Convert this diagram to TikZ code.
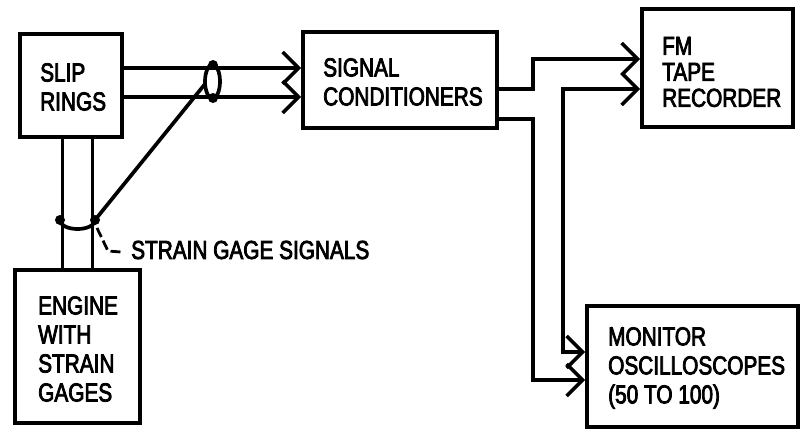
\documentclass[tikz,border=0pt]{standalone}
\usepackage{fontspec}
\setmainfont{Liberation Sans}[FakeStretch=0.8, FakeBold=3]
\usetikzlibrary{arrows.meta}
\tikzset{
  box/.style={draw, line width=4pt, inner sep=0pt},
  lbl/.style={anchor=west, align=left, inner sep=0pt, font=\fontsize{26}{29}\selectfont},
  wire/.style={line width=3.7pt},
  tip/.tip={Straight Barb[length=16pt,width=32pt,line width=3.5pt]},
  arr/.style={wire, -tip},
  arrboth/.style={wire, tip-tip},
  blob/.style={fill, circle, inner sep=0pt, minimum size=10pt},
}
\begin{document}
\begin{tikzpicture}[x=1pt,y=-1pt]
\useasboundingbox[fill=white] (0,0) rectangle (805,433);
% boxes
\node[box, minimum width=102pt, minimum height=103pt] (slip) at (71,85.5) {};
\node[box, minimum width=194pt, minimum height=96pt] (cond) at (400,80) {};
\node[box, minimum width=151pt, minimum height=118pt] (fm) at (717.5,68) {};
\node[box, minimum width=125pt, minimum height=153pt] (engine) at (77.5,346.5) {};
\node[box, minimum width=211pt, minimum height=121pt] (mon) at (692.5,366.5) {};
% texts
\node[lbl] (slipt) at (40,87) {SLIP\\RINGS};
\node[lbl] (condt) at (323,82) {SIGNAL\\CONDITIONERS};
\node[lbl, font=\fontsize{26}{26}\selectfont] (fmt) at (662,72) {FM\\TAPE\\RECORDER};
\node[lbl] (enginet) at (38,349) {ENGINE\\WITH\\STRAIN\\GAGES};
\node[lbl] (mont) at (608,368) {MONITOR\\OSCILLOSCOPES\\(50 TO 100)};
\node[lbl] (sgs) at (131,250) {STRAIN GAGE SIGNALS};
% slip rings to signal conditioners
\draw[arr] ([yshift=17.5pt]slip.east) -- ([yshift=17.5pt]slip.east -| cond.west);
\draw[arr] ([yshift=-11.5pt]slip.east) -- ([yshift=-11.5pt]slip.east -| cond.west);
% slip rings to engine
\draw[wire] ([xshift=-8.5pt]slip.south) -- ([xshift=-8.5pt]slip.south |- engine.north);
\draw[wire] ([xshift=21.5pt]slip.south) -- ([xshift=21.5pt]slip.south |- engine.north);
% rings
\coordinate (r1t) at (213,65);
\coordinate (r1b) at (213,98);
\coordinate (r2l) at (60,220);
\coordinate (r2r) at (95,220);
\coordinate (r1l) at (205,84);
\draw[wire] (212.5,81.5) ellipse [x radius=7.5pt, y radius=17pt];
\node[blob] (b1) at (r1t) {};
\node[blob] (b2) at (r1b) {};
\draw[wire] (r2l) .. controls (61,232) and (94,232) .. (r2r);
\node[blob] (b3) at (r2l) {};
\node[blob] (b4) at (r2r) {};
\draw[wire] (r2r) -- (r1l);
% leader
\coordinate (ld1) at (97,228);
\coordinate (ld2) at (108,251);
\coordinate (ld3) at (121,252);
\draw[line width=2.8pt, dash pattern=on 10pt off 4pt] (ld1) -- (ld2) -- (ld3);
% outputs
\coordinate (c1) at (533,89);
\coordinate (c2) at (533,119);
\coordinate (c3) at (563,89);
\draw[arr] (cond.east |- c1) -- (c1) |- ([yshift=9pt]fm.west);
\draw[arr] (cond.east |- c2) -- (c2) |- ([yshift=-13.5pt]mon.west);
\draw[arrboth] (fm.west |- c3) -- (c3) |- ([yshift=14.5pt]mon.west);
\end{tikzpicture}
\end{document}
